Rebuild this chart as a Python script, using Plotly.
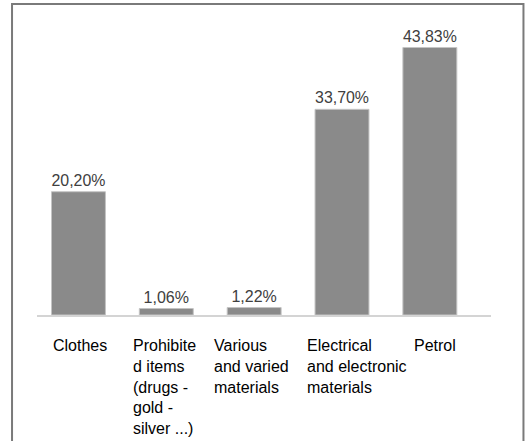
import plotly.graph_objects as go

categories = ["Clothes", "Prohibited items", "Various and varied materials",
              "Electrical and electronic materials", "Petrol"]
tick_labels = ["Clothes",
               "Prohibite<br>d items<br>(drugs -<br>gold -<br>silver ...)",
               "Various<br>and varied<br>materials",
               "Electrical<br>and electronic<br>materials",
               "Petrol"]
values = [20.20, 1.06, 1.22, 33.70, 43.83]

# style: horizontal pixel offset of each left-aligned label block
label_xshift = [-27.5, -35, -42.5, -37.5, -17.5]

value_text = [f"{v:.2f}%".replace(".", ",") for v in values]

fig = go.Figure()
fig.add_trace(go.Bar(
    x=categories, y=values,
    width=0.614,
    marker=dict(color="#8a8a8a", line=dict(color="#c4c4c4", width=1)),
    text=value_text, textposition="outside",
    textfont=dict(family="Liberation Sans, Arial, sans-serif", size=16, color="#404040"),
    cliponaxis=False,
    hoverinfo="skip",
))

annotations = []
for cat, lab, dx in zip(categories, tick_labels, label_xshift):
    annotations.append(dict(
        x=cat, y=0, xref="x", yref="paper",
        xanchor="left", yanchor="top", yshift=-20, xshift=dx,
        text=lab, showarrow=False, align="left",
        font=dict(family="Liberation Sans, Arial, sans-serif", size=16, color="#000000"),
    ))

L, R, T, B = 37, 34.5, 30, 126
W, H = 526, 441
pw, ph = W - L - R, H - T - B

fig.update_layout(
    width=W, height=H,
    margin=dict(l=L, r=R, t=T, b=B, pad=0),
    paper_bgcolor="white", plot_bgcolor="white",
    showlegend=False,
    xaxis=dict(type="category", range=[-0.472, 4.696], showticklabels=False,
               showline=True, linecolor="#d4d4d4", linewidth=2,
               showgrid=False, ticks="", zeroline=False),
    yaxis=dict(range=[0, 46.7], visible=False, showgrid=False, zeroline=False),
    annotations=annotations,
    shapes=[dict(type="rect", xref="paper", yref="paper",
                 x0=(12 - L) / pw, x1=(524 - L) / pw,
                 y0=-1.0, y1=(H - B - 4) / ph,
                 line=dict(color="#7a7a7a", width=2), fillcolor="rgba(0,0,0,0)",
                 layer="below")],
)

fig.write_html("out.html")
